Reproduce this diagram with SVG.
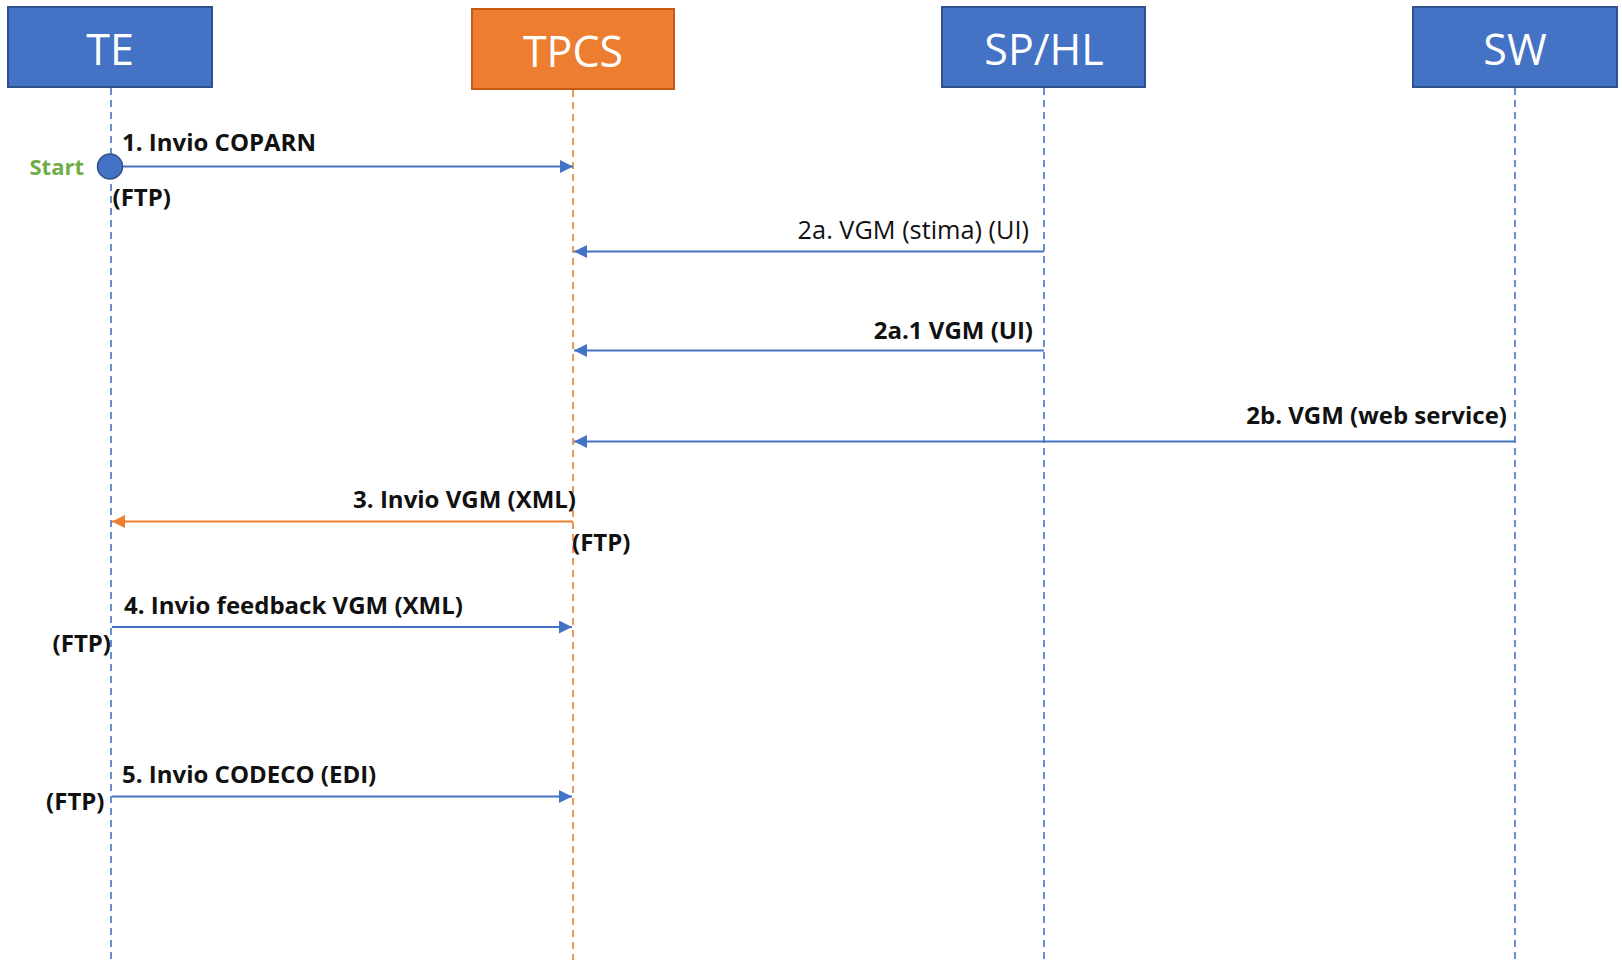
<svg xmlns="http://www.w3.org/2000/svg" width="1622" height="962" viewBox="0 0 1622 962">
<style>
.box-b{fill:#4472C4;stroke:#2F528F;stroke-width:2}
.box-o{fill:#ED7D31;stroke:#C55A11;stroke-width:2}
.title{font-family:"Open Sans","Liberation Sans",sans-serif;font-size:43px;fill:#fff;text-anchor:middle}
.life-b{stroke:#4472C4;stroke-width:1.6;stroke-dasharray:7,5;fill:none}
.life-o{stroke:#ED7D31;stroke-width:1.6;stroke-dasharray:7,5;fill:none}
.msg-b{stroke:#4472C4;stroke-width:1.8;fill:none;marker-end:url(#ab)}
.msg-o{stroke:#ED7D31;stroke-width:1.8;fill:none;marker-end:url(#ao)}
.lbl{font-family:"Open Sans","Liberation Sans",sans-serif;font-size:24px;fill:#111}
.n{font-size:25.3px}
.b{font-weight:bold}
.r{text-anchor:end}
</style>
<defs>
<marker id="ab" viewBox="0 0 10 10" refX="10" refY="5" markerWidth="15" markerHeight="13" markerUnits="userSpaceOnUse" orient="auto"><path d="M0,0 L10,5 L0,10 z" fill="#4472C4"/></marker>
<marker id="ao" viewBox="0 0 10 10" refX="10" refY="5" markerWidth="15" markerHeight="13" markerUnits="userSpaceOnUse" orient="auto"><path d="M0,0 L10,5 L0,10 z" fill="#ED7D31"/></marker>
</defs>
<rect width="1622" height="962" fill="#fff"/>
<g id="TE"><rect class="box-b" x="8" y="7" width="204" height="80"/><text class="title" x="110" y="65">TE</text><line class="life-b" x1="111" y1="88" x2="111" y2="960"/></g>
<g id="TPCS"><rect class="box-o" x="472" y="9" width="202" height="80"/><text class="title" x="573" y="67">TPCS</text><line class="life-o" x1="573" y1="90" x2="573" y2="960"/></g>
<g id="SPHL"><rect class="box-b" x="942" y="7" width="203" height="80"/><text class="title" x="1044" y="65">SP/HL</text><line class="life-b" x1="1044" y1="88" x2="1044" y2="960"/></g>
<g id="SW"><rect class="box-b" x="1413" y="7" width="204" height="80"/><text class="title" x="1515" y="65">SW</text><line class="life-b" x1="1515" y1="88" x2="1515" y2="960"/></g>
<g id="connectors">
<line class="msg-b" x1="122" y1="166.5" x2="573" y2="166.5"/>
<line class="msg-b" x1="1044" y1="251.5" x2="574" y2="251.5"/>
<line class="msg-b" x1="1044" y1="350.5" x2="574" y2="350.5"/>
<line class="msg-b" x1="1515" y1="441.5" x2="574" y2="441.5"/>
<line class="msg-o" x1="573" y1="521.5" x2="112" y2="521.5"/>
<line class="msg-b" x1="112" y1="627" x2="572" y2="627"/>
<line class="msg-b" x1="112" y1="796.5" x2="572" y2="796.5"/>
</g>
<g id="start"><circle cx="110" cy="166.5" r="12.5" fill="#4472C4" stroke="#2F528F" stroke-width="1.5"/><text class="lbl b r" x="84" y="175" style="fill:#70AD47;font-size:22px">Start</text></g>
<g id="labels">
<text class="lbl b" x="122" y="151">1. Invio COPARN</text>
<text class="lbl b" x="112.5" y="206">(FTP)</text>
<text class="lbl n r" x="1029" y="239">2a. VGM (stima) (UI)</text>
<text class="lbl b r" x="1033" y="339">2a.1 VGM (UI)</text>
<text class="lbl b r" x="1507" y="424">2b. VGM (web service)</text>
<text class="lbl b r" x="576" y="508">3. Invio VGM (XML)</text>
<text class="lbl b" x="572" y="551">(FTP)</text>
<text class="lbl b" x="124" y="614">4. Invio feedback VGM (XML)</text>
<text class="lbl b r" x="111" y="652">(FTP)</text>
<text class="lbl b" x="122" y="783">5. Invio CODECO (EDI)</text>
<text class="lbl b r" x="104.5" y="810">(FTP)</text>
</g>
</svg>
